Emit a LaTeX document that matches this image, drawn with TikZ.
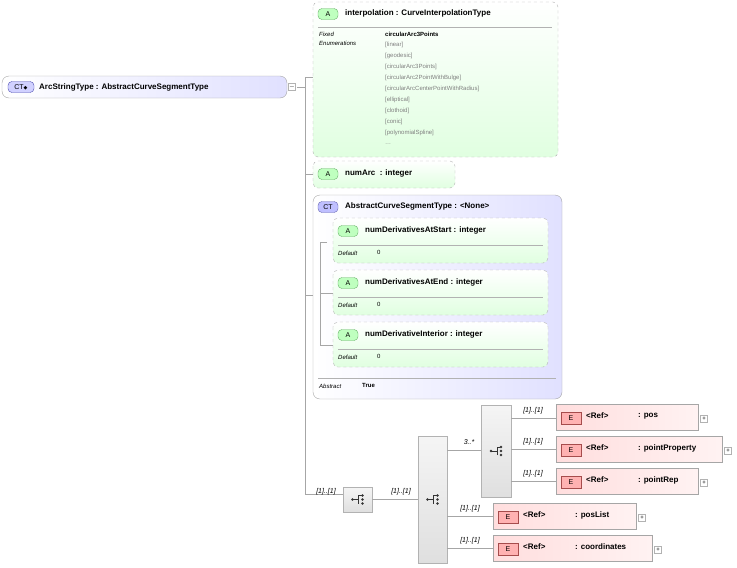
\documentclass[tikz,border=0pt]{standalone}
\usepackage{fontspec}
\setmainfont{Liberation Sans}
\newfontfamily\djv{DejaVu Sans}
\begin{document}
\begin{tikzpicture}[x=1pt,y=-1pt,font=\fontsize{8}{9}\selectfont,
 ln/.style={draw=gray!70,line width=0.6pt},
 att/.style={draw=gray!60,dashed,rounded corners=5pt,left color=white,right color=green!12,shading angle=0},
 ctb/.style={draw=gray!70,rounded corners=7pt,left color=white,right color=blue!12},
 el/.style={draw=gray!70,fill=white,left color=red!13,right color=white!95!red},
 grp/.style={draw=gray!60,top color=gray!8,bottom color=gray!25},
 lbl/.style={font=\fontsize{7}{8}\selectfont\itshape,anchor=south},
 tit/.style={font=\fontsize{8}{9}\selectfont\bfseries,anchor=west,inner sep=0pt},
 sm/.style={font=\fontsize{6}{7}\selectfont,anchor=west,inner sep=0pt},
 pm/.style={draw=gray!60,fill=white,minimum size=7pt,inner sep=0pt,font=\fontsize{6}{6}\selectfont}]
\useasboundingbox (0,0) rectangle (737,568);
\newcommand\badge[4]{\node[draw=#4!50!black!60,fill=#4!25,rounded corners=4pt,minimum width=20pt,minimum height=11pt,inner sep=0pt,font=\fontsize{7}{7}\selectfont] (#1) at (#2) {#3};}
% connectors
\draw[ln] (297,87) -- (305,87);
\draw[ln] (305,77) -- (305,494) -- (343,494);
\draw[ln] (305,77) -- (313,77);
\draw[ln] (305,174) -- (313,174);
\draw[ln] (305,295) -- (313,295);
% root
\draw[ctb] (2,76) rectangle (287,98);
\node[draw=blue!40!gray,fill=blue!18,rounded corners=4pt,minimum width=26pt,minimum height=11pt,inner sep=0pt,font=\fontsize{7}{7}\selectfont] (ctr) at (21,87) {CT{\djv\fontsize{5}{5}\selectfont ◆}};
\node[tit] (root) at (39,87) {ArcStringType : AbstractCurveSegmentType};
\node[pm] (rm) at (292,87) {$-$};
% interpolation
\draw[att] (313,2) rectangle (558,157);
\badge{ai}{328,14}{A}{green}
\node[tit] (interp) at (345,13) {interpolation : CurveInterpolationType};
\draw[gray!60] (318,27) -- (552,27);
\node[sm,font=\fontsize{6}{7}\selectfont\itshape] (fx) at (319,34) {Fixed};
\node[sm,font=\fontsize{6}{7}\selectfont\itshape] (en) at (319,43) {Enumerations};
\node[sm,font=\fontsize{6}{7}\selectfont\bfseries] (e0) at (385,34) {circularArc3Points};
\foreach \tx [count=\i] in {[linear],[geodesic],[circularArc3Points],[circularArc2PointWithBulge],[circularArcCenterPointWithRadius],[elliptical],[clothoid],[conic],[polynomialSpline]}
  \node[sm,text=gray] (e\i) at (385,34+11*\i) {\tx};
\node[sm,text=gray] (e10) at (385,144) {\dots};
% numArc
\draw[att] (313,161) rectangle (455,188);
\badge{an}{328,174}{A}{green}
\node[tit] (numarc) at (345,173) {numArc\ \ : integer};
% CT abstract
\draw[ctb] (313,195) rectangle (562,399);
\badge{ct}{328,207}{CT}{blue}
\node[tit] (acs) at (345,206) {AbstractCurveSegmentType : <None>};
\draw[ln] (327,242) -- (320,242) -- (320,345) -- (333,345);
\draw[ln] (320,293) -- (333,293);
\foreach \y/\n/\tx in {218/s/numDerivativesAtStart : integer,270/e/numDerivativesAtEnd : integer,322/i/numDerivativeInterior : integer}{
  \draw[att] (333,\y) rectangle (548,\y+45);
  \badge{b\n}{348,\y+13}{A}{green}
  \node[tit] (t\n) at (365,\y+12) {\tx};
  \draw[gray!60] (338,\y+27) -- (543,\y+27);
  \node[sm,font=\fontsize{6}{7}\selectfont\itshape] (d\n) at (338,\y+35) {Default};
  \node[sm] (v\n) at (377,\y+34) {0};
}
\draw[gray!60] (318,378) -- (556,378);
\node[sm,font=\fontsize{6}{7}\selectfont\itshape] (ab) at (319,386) {Abstract};
\node[sm,font=\fontsize{6}{7}\selectfont\bfseries] (tr) at (362,385) {True};
% groups
\node[grp,minimum width=29pt,minimum height=25pt,inner sep=0pt] (seq1) at (357.5,499.5) {};
\node[grp,minimum width=29pt,minimum height=127pt,inner sep=0pt] (cho) at (432.5,499.5) {};
\node[grp,minimum width=30pt,minimum height=92pt,inner sep=0pt] (seq2) at (496,451) {};
\foreach \c in {seq1,cho,seq2}{
  \fill[gray!40!black] ([xshift=-5pt]\c.center) circle (1.3pt);
  \draw[gray!40!black,line width=0.6pt] ([xshift=-5pt]\c.center) -- ([xshift=1pt]\c.center) ([xshift=1pt,yshift=-4pt]\c.center) -- ([xshift=1pt,yshift=4pt]\c.center) -- ([xshift=4pt,yshift=4pt]\c.center);
  \foreach \d in {-4,0,4} \fill[gray!40!black] ([xshift=5pt,yshift=\d pt]\c.center) circle (1.4pt);
}
\node[lbl] (l0) at (326,498) {[1]..[1]};
\draw[ln] (seq1.east) -- (cho.west);
\node[lbl] (l1) at (401,498) {[1]..[1]};
\draw[ln] (447,450) -- (481,450);
\node[lbl] (l2) at (469,448) {3..*};
% elements
\newcommand\elem[5]{%
  \draw[el] (#2,#3) rectangle (#4,#3+26);
  \node[draw=red!50!black!70,fill=red!30,minimum width=20pt,minimum height=12pt,inner sep=0pt,font=\fontsize{7}{7}\selectfont] (#1b) at (#2+15,#3+14) {E};
  \node[tit] (#1t) at (#2+30,#3+12) {<Ref>};
  \node[tit] (#1n) at (#2+82,#3+12) {: #5};
  \node[pm] (#1p) at (#4+6,#3+15) {+};
}
\elem{pos}{556}{404}{698}{pos}
\elem{pp}{556}{436}{722}{pointProperty}
\elem{pr}{556}{468}{698}{pointRep}
\elem{pl}{493}{503}{636}{posList}
\elem{co}{493}{535}{652}{coordinates}
\foreach \y in {418,449,481} {\draw[ln] (511,\y) -- (556,\y); \node[lbl] at (533,\y-1) {[1]..[1]};}
\foreach \y in {516,548} {\draw[ln] (447,\y) -- (493,\y); \node[lbl] at (470,\y-1) {[1]..[1]};}
\end{tikzpicture}
\end{document}
